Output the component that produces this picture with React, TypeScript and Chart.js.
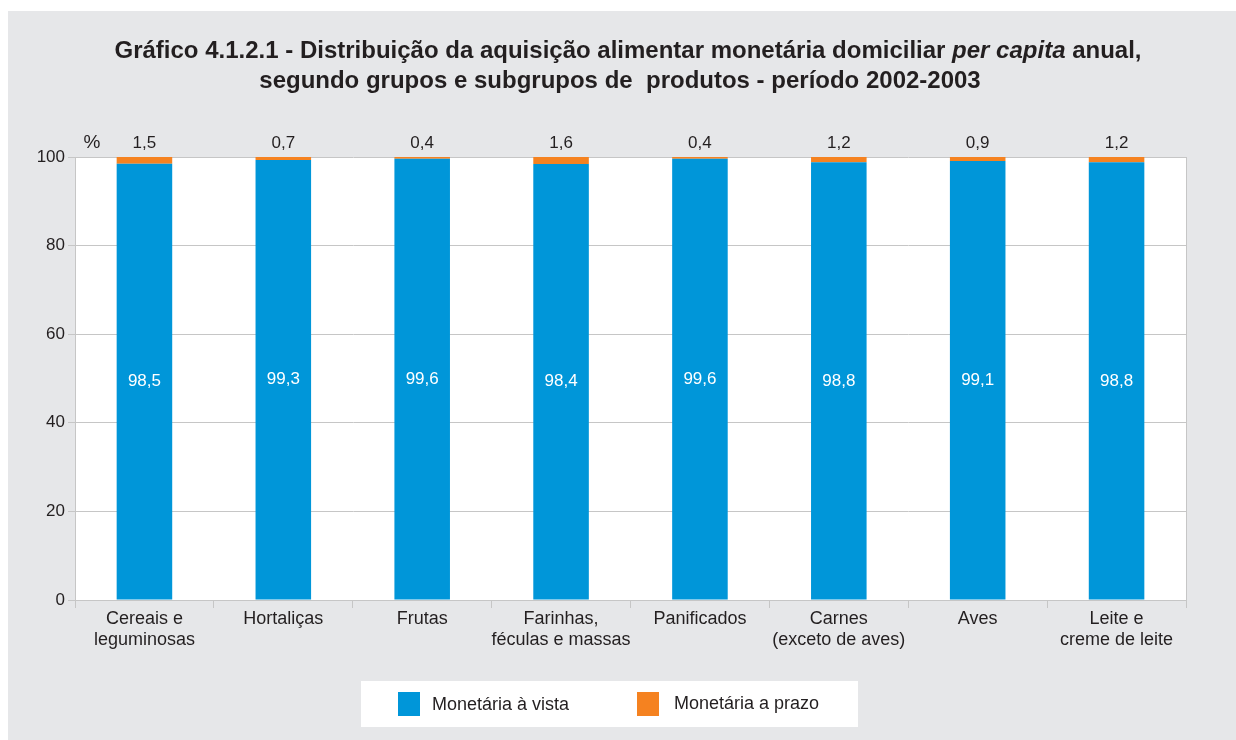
import React, { useEffect, useRef } from "react";
import { Chart, registerables } from "chart.js";

Chart.register(...registerables);

const categories: (string | string[])[] = [
  ["Cereais e", "leguminosas"],
  "Hortaliças",
  "Frutas",
  ["Farinhas,", "féculas e massas"],
  "Panificados",
  ["Carnes", "(exceto de aves)"],
  "Aves",
  ["Leite e", "creme de leite"],
];
const vistaValues = [98.5, 99.3, 99.6, 98.4, 99.6, 98.8, 99.1, 98.8];
const prazoValues = [1.5, 0.7, 0.4, 1.6, 0.4, 1.2, 0.9, 1.2];
const seriesNames = ["Monetária à vista", "Monetária a prazo"];
const yTicks = [0, 20, 40, 60, 80, 100];

const BLUE = "#0096d9";
const ORANGE = "#f58220";
const TEXT = "#231f20";
const GRID = "#c6c6c6";
const FONT = "'Liberation Sans', Arial, sans-serif";

const fmt = (v: number) => v.toFixed(1).replace(".", ",");

export default function App() {
  const ref = useRef<HTMLCanvasElement>(null);

  useEffect(() => {
    if (!ref.current) return;

    const decor = {
      id: "decor",
      beforeDraw(chart: any) {
        const { ctx, chartArea: a } = chart;
        ctx.save();
        ctx.fillStyle = "#ffffff";
        ctx.fillRect(a.left, a.top, a.right - a.left, a.bottom - a.top);
        ctx.restore();
      },
      afterDraw(chart: any) {
        const { ctx, chartArea: a } = chart;
        ctx.save();
        // right frame line
        ctx.strokeStyle = GRID;
        ctx.lineWidth = 1;
        ctx.beginPath();
        ctx.moveTo(Math.round(a.right) + 0.5, a.top);
        ctx.lineTo(Math.round(a.right) + 0.5, a.bottom);
        ctx.stroke();

        // title
        ctx.fillStyle = TEXT;
        ctx.textBaseline = "middle";
        const p1 = "Gráfico 4.1.2.1 - Distribuição da aquisição alimentar monetária domiciliar ";
        const p2 = "per capita";
        const p3 = " anual,";
        const bold = `bold 24px ${FONT}`;
        const boldIt = `italic bold 24px ${FONT}`;
        ctx.font = bold;
        const w1 = ctx.measureText(p1).width;
        const w3 = ctx.measureText(p3).width;
        ctx.font = boldIt;
        const w2 = ctx.measureText(p2).width;
        let x = 620 - (w1 + w2 + w3) / 2;
        ctx.textAlign = "left";
        ctx.font = bold;
        ctx.fillText(p1, x, 40);
        x += w1;
        ctx.font = boldIt;
        ctx.fillText(p2, x, 40);
        x += w2;
        ctx.font = bold;
        ctx.fillText(p3, x, 40);
        ctx.textAlign = "center";
        ctx.fillText("segundo grupos e subgrupos de  produtos - período 2002-2003", 612, 70);

        // % unit
        ctx.font = `19px ${FONT}`;
        ctx.fillText("%", 84, 132);

        // legend
        ctx.fillStyle = "#ffffff";
        ctx.fillRect(353, 670, 497, 46);
        ctx.fillStyle = BLUE;
        ctx.fillRect(390, 681, 22, 24);
        ctx.fillStyle = ORANGE;
        ctx.fillRect(629, 681, 22, 24);
        ctx.fillStyle = TEXT;
        ctx.font = `18px ${FONT}`;
        ctx.textAlign = "left";
        ctx.fillText(seriesNames[0], 424, 694);
        ctx.fillText(seriesNames[1], 666, 693);
        ctx.restore();
      },
      afterDatasetsDraw(chart: any) {
        const { ctx, chartArea: a } = chart;
        ctx.save();
        ctx.font = `17px ${FONT}`;
        ctx.textAlign = "center";
        ctx.textBaseline = "middle";
        const m0 = chart.getDatasetMeta(0);
        m0.data.forEach((bar: any, i: number) => {
          ctx.fillStyle = "#ffffff";
          ctx.fillText(fmt(vistaValues[i]), bar.x, (bar.y + bar.base) / 2);
        });
        const m1 = chart.getDatasetMeta(1);
        m1.data.forEach((bar: any, i: number) => {
          ctx.fillStyle = TEXT;
          ctx.fillText(fmt(prazoValues[i]), bar.x, a.top - 14);
        });
        ctx.restore();
      },
    };

    const chart = new Chart(ref.current, {
      type: "bar",
      data: {
        labels: categories,
        datasets: [
          { label: seriesNames[0], data: vistaValues, backgroundColor: BLUE, borderWidth: 0 },
          { label: seriesNames[1], data: prazoValues, backgroundColor: ORANGE, borderWidth: 0 },
        ],
      },
      options: {
        animation: false,
        responsive: true,
        maintainAspectRatio: false,
        layout: { padding: { top: 146, right: 50, bottom: 60, left: 0 } },
        datasets: { bar: { barPercentage: 0.4, categoryPercentage: 1.0 } },
        plugins: {
          legend: { display: false },
          title: { display: false },
          tooltip: { enabled: false },
        },
        scales: {
          x: {
            stacked: true,
            offset: true,
            grid: {
              display: true,
              offset: true,
              drawOnChartArea: false,
              drawTicks: true,
              tickLength: 8,
              color: GRID,
            },
            border: { display: true, color: GRID },
            ticks: {
              color: TEXT,
              font: { family: FONT, size: 18, lineHeight: 1.2 },
              padding: 0,
              maxRotation: 0,
              autoSkip: false,
            },
            afterFit: (s: any) => {
              s.height = 80;
            },
          },
          y: {
            stacked: true,
            min: 0,
            max: 100,
            afterBuildTicks: (s: any) => {
              s.ticks = yTicks.map((v) => ({ value: v }));
            },
            grid: { color: GRID, tickLength: 7, drawTicks: true },
            border: { display: true, color: GRID },
            ticks: {
              color: TEXT,
              font: { family: FONT, size: 17 },
              padding: 3,
            },
            afterFit: (s: any) => {
              s.width = 67;
            },
          },
        },
      },
      plugins: [decor],
    });
    return () => chart.destroy();
  }, []);

  return (
    <div
      style={{
        position: "fixed",
        left: 8,
        top: 11,
        width: 1228,
        height: 729,
        background: "#e6e7e9",
      }}
    >
      <canvas ref={ref} />
    </div>
  );
}
